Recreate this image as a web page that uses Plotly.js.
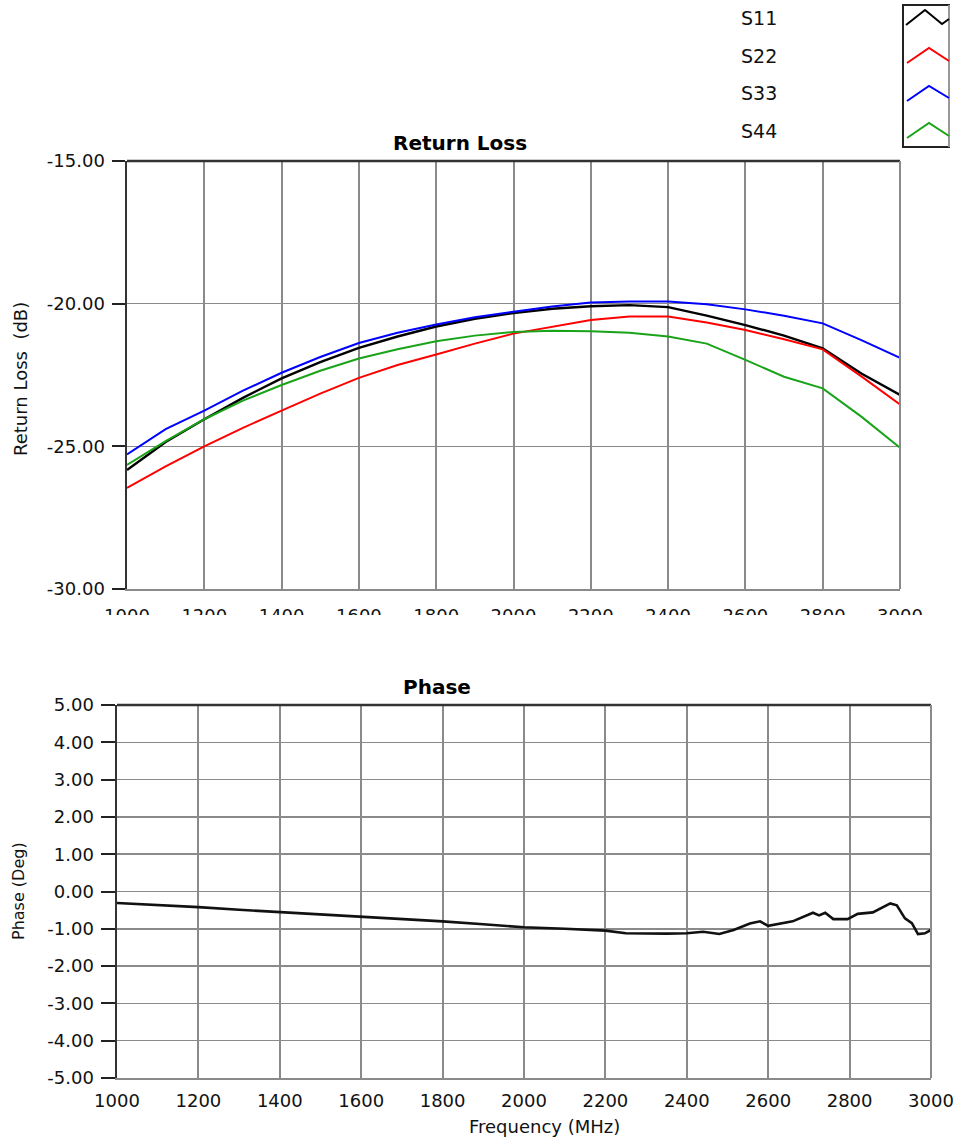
<!DOCTYPE html>
<html>
<head>
<meta charset="utf-8">
<script src="https://cdn.plot.ly/plotly-3.0.1.min.js"></script>
<style>
  html, body { margin: 0; padding: 0; background: #fff; }
  #chart { width: 956px; height: 1138px; }
</style>
</head>
<body>
<div id="chart"></div>
<script>
// ---------------- data ----------------
const seriesNames = ["S11", "S22", "S33", "S44"];
const seriesColors = ["#000000", "#ff0000", "#0000ff", "#19a319"];

const freqRL = [1000, 1100, 1200, 1300, 1400, 1500, 1600, 1700, 1800, 1900, 2000,
                2100, 2200, 2300, 2400, 2500, 2600, 2700, 2800, 2900, 3000];

const s11 = [-25.83, -24.85, -24.05, -23.30, -22.62, -22.05, -21.55, -21.15, -20.80, -20.53, -20.33,
             -20.18, -20.09, -20.05, -20.12, -20.42, -20.75, -21.12, -21.57, -22.45, -23.20];
const s22 = [-26.46, -25.70, -25.00, -24.35, -23.75, -23.15, -22.60, -22.15, -21.78, -21.40, -21.05,
             -20.80, -20.57, -20.45, -20.45, -20.66, -20.92, -21.25, -21.60, -22.55, -23.53];
const s33 = [-25.28, -24.40, -23.75, -23.05, -22.42, -21.87, -21.38, -21.02, -20.73, -20.48, -20.28,
             -20.10, -19.96, -19.92, -19.92, -20.02, -20.20, -20.42, -20.69, -21.28, -21.90];
const s44 = [-25.65, -24.82, -24.05, -23.40, -22.85, -22.35, -21.92, -21.60, -21.32, -21.12, -20.99,
             -20.95, -20.97, -21.02, -21.15, -21.40, -21.97, -22.56, -22.97, -23.96, -25.05];
const rlSeries = [s11, s22, s33, s44];

const freqPh = [1000, 1100, 1200, 1300, 1400, 1500, 1600, 1700, 1800, 1900, 2000, 2100, 2150, 2200,
                2250, 2300, 2350, 2400, 2440, 2480, 2515, 2555, 2580, 2600, 2660, 2710, 2725, 2740,
                2760, 2795, 2820, 2857, 2900, 2916, 2936, 2953, 2968, 2985, 3000];
const phase = [-0.31, -0.36, -0.42, -0.49, -0.55, -0.61, -0.67, -0.73, -0.80, -0.88, -0.96, -1.00, -1.03, -1.05,
               -1.12, -1.13, -1.13, -1.12, -1.08, -1.14, -1.03, -0.86, -0.80, -0.92, -0.80, -0.57, -0.64, -0.57,
               -0.74, -0.74, -0.60, -0.56, -0.32, -0.37, -0.72, -0.85, -1.14, -1.12, -1.03];

const rlTicks = [-15, -20, -25, -30];
const phTicks = [5, 4, 3, 2, 1, 0, -1, -2, -3, -4, -5];
const freqTicks = [1000, 1200, 1400, 1600, 1800, 2000, 2200, 2400, 2600, 2800, 3000];

const topTitle = "Return Loss";
const bottomTitle = "Phase";
const rlAxisTitle = "Return Loss  (dB)";
const phAxisTitle = "Phase (Deg)";
const freqAxisTitle = "Frequency (MHz)";

// ---------------- layout helpers ----------------
const W = 956, H = 1138;
const px = x => x / W;
const py = y => 1 - y / H;

const tickFont = { family: "DejaVu Sans", size: 18, color: "#111" };
const gridCol = "#8a8a8a";

const traces = rlSeries.map((vals, i) => ({
  x: freqRL, y: vals, type: "scatter", mode: "lines",
  name: seriesNames[i], xaxis: "x", yaxis: "y",
  line: { color: seriesColors[i], width: i === 0 ? 2.4 : 2 },
  showlegend: false
}));
traces.push({
  x: freqPh, y: phase, type: "scatter", mode: "lines", name: "Phase",
  xaxis: "x2", yaxis: "y2", line: { color: "#111", width: 2.6 }, showlegend: false
});

const fmt = v => v.toFixed(2);

const layout = {
  width: W, height: H,
  margin: { l: 0, r: 0, t: 0, b: 0 },
  paper_bgcolor: "#fff", plot_bgcolor: "#fff",
  showlegend: false,
  xaxis: {
    domain: [px(127), px(900)], range: [1000, 3000], anchor: "y",
    tickmode: "array", tickvals: freqTicks, ticktext: freqTicks.map(String),
    tickfont: tickFont, ticks: "", ticklabelstandoff: 10,
    showgrid: true, gridcolor: gridCol, gridwidth: 2, zeroline: false,
    showline: true, linecolor: gridCol, linewidth: 1.5
  },
  yaxis: {
    domain: [py(589), py(161)], range: [-30, -15], anchor: "x",
    tickmode: "array", tickvals: rlTicks, ticktext: rlTicks.map(fmt),
    tickfont: tickFont, ticks: "outside", ticklen: 13, tickwidth: 2, tickcolor: "#222",
    ticklabelstandoff: 3,
    showgrid: true, gridcolor: gridCol, gridwidth: 1.5, zeroline: false,
    showline: true, linecolor: "#333", linewidth: 2.5
  },
  xaxis2: {
    domain: [px(117), px(931)], range: [1000, 3000], anchor: "y2",
    tickmode: "array", tickvals: freqTicks, ticktext: freqTicks.map(String),
    tickfont: tickFont, ticks: "", ticklabelstandoff: 6,
    showgrid: true, gridcolor: gridCol, gridwidth: 2, zeroline: false,
    showline: true, linecolor: gridCol, linewidth: 1.5
  },
  yaxis2: {
    domain: [py(1078), py(705)], range: [-5, 5], anchor: "x2",
    tickmode: "array", tickvals: phTicks, ticktext: phTicks.map(fmt),
    tickfont: tickFont, ticks: "outside", ticklen: 14, tickwidth: 2, tickcolor: "#222",
    ticklabelstandoff: 3,
    showgrid: true, gridcolor: gridCol, gridwidth: 1.5, zeroline: false,
    showline: true, linecolor: "#333", linewidth: 2.5
  },
  shapes: [
    // frames
    { type: "line", xref: "x domain", yref: "y domain", x0: 0, x1: 1, y0: 1, y1: 1, line: { color: "#333", width: 2.5 } },
    { type: "line", xref: "x domain", yref: "y domain", x0: 1, x1: 1, y0: 0, y1: 1, line: { color: gridCol, width: 2 } },
    { type: "line", xref: "x2 domain", yref: "y2 domain", x0: 0, x1: 1, y0: 1, y1: 1, line: { color: "#333", width: 2.5 } },
    { type: "line", xref: "x2 domain", yref: "y2 domain", x0: 1, x1: 1, y0: 0, y1: 1, line: { color: gridCol, width: 2 } },
    // clip of the upper chart's frequency labels
    { type: "rect", xref: "paper", yref: "paper", layer: "above", x0: px(80), x1: 1, y0: py(640), y1: py(615),
      fillcolor: "#fff", line: { width: 0 } },
    // legend box
    { type: "rect", xref: "paper", yref: "paper", x0: px(903), x1: px(949), y0: py(147), y1: py(5),
      line: { color: "#222", width: 2 }, fillcolor: "rgba(0,0,0,0)" },
    { type: "line", xref: "paper", yref: "paper", x0: px(949), x1: px(949), y0: py(147), y1: py(5),
      line: { color: "#999", width: 2 } }
  ],
  annotations: [
    { text: "<b>" + topTitle + "</b>", xref: "paper", yref: "paper", x: px(460), y: py(143), showarrow: false,
      xanchor: "center", yanchor: "middle", font: { family: "DejaVu Sans", size: 20, color: "#000" } },
    { text: "<b>" + bottomTitle + "</b>", xref: "paper", yref: "paper", x: px(437), y: py(687), showarrow: false,
      xanchor: "center", yanchor: "middle", font: { family: "DejaVu Sans", size: 20, color: "#000" } },
    { text: rlAxisTitle, xref: "paper", yref: "paper", x: px(20), y: py(379), showarrow: false, textangle: -90,
      xanchor: "center", yanchor: "middle", font: { family: "DejaVu Sans", size: 18, color: "#111" } },
    { text: phAxisTitle, xref: "paper", yref: "paper", x: px(18), y: py(891), showarrow: false, textangle: -90,
      xanchor: "center", yanchor: "middle", font: { family: "DejaVu Sans", size: 16, color: "#111" } },
    { text: freqAxisTitle, xref: "paper", yref: "paper", x: px(544), y: py(1126), showarrow: false,
      xanchor: "center", yanchor: "middle", font: { family: "DejaVu Sans", size: 18, color: "#111" } }
  ]
};

// legend texts and symbols
const legendY = [18, 56, 93, 131];
const symbolPaths = [
  [[906, 25], [925, 10], [942, 24], [949, 19]],
  [[907, 63], [929, 48], [949, 61]],
  [[907, 101], [929, 86], [949, 98]],
  [[907, 138], [929, 123], [949, 136]]
];
seriesNames.forEach((name, i) => {
  layout.annotations.push({
    text: name, xref: "paper", yref: "paper", x: px(739), y: py(legendY[i]), showarrow: false,
    xanchor: "left", yanchor: "middle", font: { family: "DejaVu Sans", size: 19, color: "#111" }
  });
  const pts = symbolPaths[i];
  const d = pts.map((p, k) => (k === 0 ? "M" : "L") + px(p[0]).toFixed(5) + "," + py(p[1]).toFixed(5)).join(" ");
  layout.shapes.push({ type: "path", xref: "paper", yref: "paper", path: d,
    line: { color: seriesColors[i], width: 2 } });
});

Plotly.newPlot("chart", traces, layout, { staticPlot: true, displayModeBar: false });
</script>
</body>
</html>
